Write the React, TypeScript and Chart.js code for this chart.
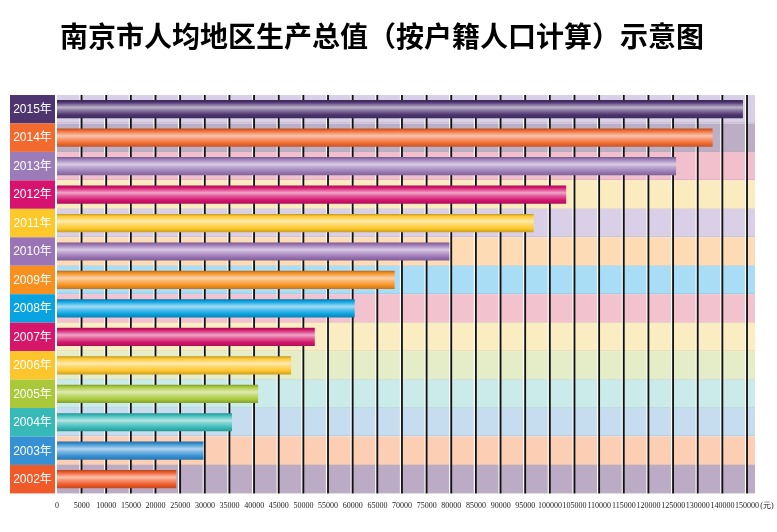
import React, { useEffect, useRef } from 'react';
import { Chart, registerables } from 'chart.js';

Chart.register(...registerables);

const TITLE = '南京市人均地区生产总值（按户籍人口计算）示意图';
const UNIT = '(元)';

const YEARS = ['2015年', '2014年', '2013年', '2012年', '2011年', '2010年', '2009年', '2008年', '2007年', '2006年', '2005年', '2004年', '2003年', '2002年'];
const VALUES = [148300, 136000, 125600, 103300, 96700, 79600, 68500, 60400, 52300, 47500, 40800, 35500, 29700, 24200];

const BAR_COLORS = ['#4e3570', '#f26a2e', '#9b7bb8', '#d6146f', '#fdc82a', '#9a74b4', '#f7901e', '#0aa3e2', '#d5166b', '#fdc52c', '#a9c93a', '#37bab7', '#3590d4', '#f05a28'];
const BAND_COLORS = ['#d9cfe6', '#bcaec4', '#f2bfcc', '#fbecc0', '#d9cfe7', '#fddcb5', '#a9dcf5', '#f2c2cf', '#fbedc2', '#e4edc8', '#cbeaea', '#c6dcef', '#fccfb4', '#bcabc4'];

const TICK_VALUES = [0, 5000, 10000, 15000, 20000, 25000, 30000, 35000, 40000, 45000, 50000, 55000, 60000, 65000, 70000, 75000, 80000, 85000, 90000, 95000, 100000, 105000, 110000, 115000, 120000, 125000, 130000, 140000, 150000];

// position on the (tick-index) axis for a value, piecewise between tick labels
function axisPos(v: number): number {
  for (let i = 0; i < TICK_VALUES.length - 1; i++) {
    const a = TICK_VALUES[i], b = TICK_VALUES[i + 1];
    if (v <= b) return i + (v - a) / (b - a);
  }
  return TICK_VALUES.length - 1;
}

function hexToRgb(h: string) {
  const n = parseInt(h.slice(1), 16);
  return [(n >> 16) & 255, (n >> 8) & 255, n & 255];
}
function mix(h: string, t: number[], f: number) {
  const c = hexToRgb(h);
  const r = c.map((x, i) => Math.round(x + (t[i] - x) * f));
  return `rgb(${r[0]},${r[1]},${r[2]})`;
}

const ROW_FRACTION = 0.64;

const decor = {
  id: 'decor',
  beforeDatasetsDraw(chart: any) {
    const { ctx, chartArea: a, scales } = chart;
    const x = scales.x;
    const n = YEARS.length;
    const rh = (a.bottom - a.top) / n;
    ctx.save();
    BAND_COLORS.forEach((c, i) => {
      ctx.fillStyle = c;
      ctx.fillRect(a.left, a.top + i * rh, a.right - a.left, rh);
    });
    for (let i = 1; i < n; i++) {
      ctx.fillStyle = 'rgba(0,0,0,0.06)';
      ctx.fillRect(a.left, Math.round(a.top + i * rh) - 1, a.right - a.left, 1);
    }
    TICK_VALUES.forEach((_, i) => {
      if (i === 0) return;
      const px = x.getPixelForValue(i);
      ctx.fillStyle = '#ffffff';
      ctx.fillRect(px - 2.2, a.top, 1.1, a.bottom - a.top);
      ctx.fillStyle = '#111111';
      ctx.fillRect(px - 1, a.top, 1.8, a.bottom - a.top);
    });
    ctx.restore();
  },
  afterDraw(chart: any) {
    const { ctx, chartArea: a } = chart;
    const n = YEARS.length;
    const rh = (a.bottom - a.top) / n;
    ctx.save();
    YEARS.forEach((y, i) => {
      const top = a.top + i * rh;
      ctx.fillStyle = BAR_COLORS[i];
      ctx.fillRect(10, top, 45, rh);
      ctx.fillStyle = '#ffffff';
      ctx.font = "12px 'Liberation Sans', 'Noto Sans CJK SC', sans-serif";
      ctx.textAlign = 'center';
      ctx.textBaseline = 'middle';
      ctx.fillText(y, 32.5, top + rh / 2 + 0.5);
    });
    ctx.fillStyle = '#000000';
    ctx.font = "bold 28px 'Noto Sans CJK SC', serif";
    ctx.textAlign = 'center';
    ctx.textBaseline = 'middle';
    ctx.fillText(TITLE, 382, 36);
    ctx.font = "8px 'Liberation Serif', serif";
    ctx.fillStyle = '#222222';
    ctx.fillText(UNIT, 767, 506);
    ctx.restore();
  },
};

export default function App() {
  const ref = useRef<HTMLCanvasElement>(null);
  useEffect(() => {
    if (!ref.current) return;
    const chart = new Chart(ref.current, {
      type: 'bar',
      data: {
        labels: YEARS,
        datasets: [
          {
            data: VALUES.map(axisPos),
            backgroundColor: (c: any) => {
              const base = BAR_COLORS[c.dataIndex] || '#888';
              const ch = c.chart;
              const ys = ch.scales && ch.scales.y;
              const area = ch.chartArea;
              if (!ys || !area || c.type !== 'data') return base;
              const rh = (area.bottom - area.top) / YEARS.length;
              const cy = ys.getPixelForValue(c.dataIndex);
              const hh = (rh * ROW_FRACTION) / 2;
              if (!isFinite(cy)) return base;
              const g = ch.ctx.createLinearGradient(0, cy - hh, 0, cy + hh);
              g.addColorStop(0, mix(base, [0, 0, 0], 0.25));
              g.addColorStop(0.12, base);
              g.addColorStop(0.4, mix(base, [255, 255, 255], 0.62));
              g.addColorStop(0.55, mix(base, [255, 255, 255], 0.35));
              g.addColorStop(0.8, base);
              g.addColorStop(1, mix(base, [0, 0, 0], 0.2));
              return g;
            },
            borderWidth: 0,
            categoryPercentage: 1,
            barPercentage: ROW_FRACTION,
          },
        ],
      },
      options: {
        indexAxis: 'y',
        animation: false,
        responsive: false,
        devicePixelRatio: 1,
        layout: { padding: { left: 57, right: 22, top: 95, bottom: 13 } },
        plugins: { legend: { display: false }, tooltip: { enabled: false }, title: { display: false } },
        scales: {
          y: { type: 'category', display: false, offset: true },
          x: {
            type: 'linear',
            min: 0,
            max: TICK_VALUES.length - 1 + 0.32,
            border: { display: false },
            grid: { display: false, drawTicks: false },
            afterBuildTicks: (scale: any) => {
              scale.ticks = TICK_VALUES.map((_, i) => ({ value: i }));
            },
            ticks: {
              autoSkip: false,
              maxRotation: 0,
              minRotation: 0,
              padding: 8,
              color: '#222222',
              font: { family: "'Liberation Serif', serif", size: 8 },
              callback: (v: any) => {
                const t = TICK_VALUES[Math.round(Number(v))];
                return t === undefined ? '' : String(t);
              },
            },
          },
        },
      },
      plugins: [decor],
    });
    return () => chart.destroy();
  }, []);
  return (
    <div style={{ position: 'absolute', left: 0, top: 0, width: 777, height: 532, background: '#fff' }}>
      <canvas ref={ref} width={777} height={532} style={{ display: 'block' }} />
    </div>
  );
}
